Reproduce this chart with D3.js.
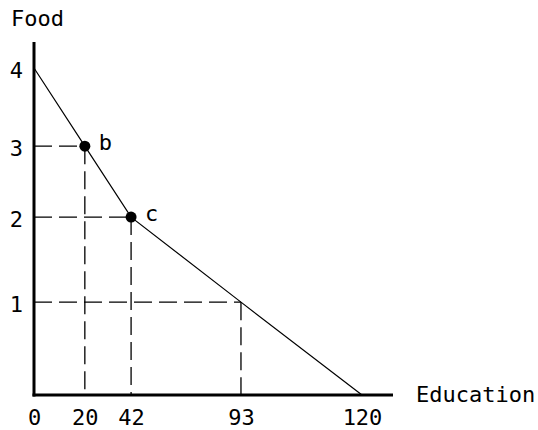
<!DOCTYPE html>
<html>
<head>
<meta charset="utf-8">
<script src="https://cdn.jsdelivr.net/npm/d3@7"></script>
<style>
  body { margin: 0; background: #fff; }
  text { font-family: "DejaVu Sans Mono", monospace; font-size: 22px; fill: #000; }
</style>
</head>
<body>
<div id="chart"></div>
<script>
// data
var xTicks = [0, 20, 42, 93, 120];
var yTicks = [1, 2, 3, 4];
var frontierX = [0, 20, 42, 93, 120];
var frontierY = [4, 3, 2, 1, 0];
var pointLabels = ["b", "c"];
var pointX = [20, 42];
var pointY = [3, 2];
var guideX = [20, 42, 93];
var guideY = [3, 2, 1];

var W = 538, H = 430;
var margin = {top: 68, right: 176, bottom: 35, left: 34},
    width = W - margin.left - margin.right,
    height = H - margin.top - margin.bottom;

var svg = d3.select("#chart")
  .append("svg")
    .attr("width", W)
    .attr("height", H)
  .append("g")
    .attr("transform", "translate(" + margin.left + "," + margin.top + ")");

// the drawing is not to scale, so the axes are piecewise
var x = d3.scaleLinear()
  .domain(xTicks)
  .range([0, 0.155, 0.296, 0.631, 1].map(function(f) { return f * width; }));

var y = d3.scaleLinear()
  .domain([0, 1, 2, 3, 4])
  .range([0, 0.284, 0.544, 0.761, 1].map(function(f) { return height - f * height; }));

// dashed guides
guideX.forEach(function(gx, i) {
  var gy = guideY[i];
  svg.append("line")
    .attr("x1", x(0)).attr("x2", x(gx))
    .attr("y1", y(gy)).attr("y2", y(gy))
    .attr("stroke", "#000").attr("stroke-width", 1.3)
    .attr("stroke-dasharray", "18,7");
  svg.append("line")
    .attr("x1", x(gx)).attr("x2", x(gx))
    .attr("y1", y(gy)).attr("y2", y(0))
    .attr("stroke", "#000").attr("stroke-width", 1.3)
    .attr("stroke-dasharray", "18,7");
});

// frontier line
var line = d3.line()
  .x(function(d) { return x(d[0]); })
  .y(function(d) { return y(d[1]); });

svg.append("path")
  .datum(d3.zip(frontierX, frontierY))
  .attr("fill", "none")
  .attr("stroke", "#000")
  .attr("stroke-width", 1.2)
  .attr("d", line);

// axes (thick lines, labels through d3 axes)
svg.append("line")
  .attr("x1", x(0)).attr("x2", x(0))
  .attr("y1", y(4) - 26).attr("y2", y(0) + 1.5)
  .attr("stroke", "#000").attr("stroke-width", 3);
svg.append("line")
  .attr("x1", x(0) - 1.5).attr("x2", width + 31)
  .attr("y1", y(0)).attr("y2", y(0))
  .attr("stroke", "#000").attr("stroke-width", 3);

var xAxis = svg.append("g")
  .attr("transform", "translate(0," + height + ")")
  .call(d3.axisBottom(x).tickValues(xTicks).tickSize(0).tickFormat(d3.format("d")));
xAxis.select(".domain").remove();
xAxis.selectAll("text")
  .attr("y", 30).attr("dy", 0)
  .style("font-family", "DejaVu Sans Mono").style("font-size", "22px");

var yAxis = svg.append("g")
  .call(d3.axisLeft(y).tickValues(yTicks).tickSize(0).tickFormat(d3.format("d")));
yAxis.select(".domain").remove();
yAxis.selectAll("text")
  .attr("x", -11).attr("dy", 9)
  .style("font-family", "DejaVu Sans Mono").style("font-size", "22px");

// points b and c
svg.selectAll(".pt")
  .data(d3.range(pointX.length))
  .enter().append("circle")
    .attr("class", "pt")
    .attr("cx", function(i) { return x(pointX[i]); })
    .attr("cy", function(i) { return y(pointY[i]); })
    .attr("r", 5.5)
    .attr("fill", "#000");

svg.selectAll(".ptlabel")
  .data(d3.range(pointX.length))
  .enter().append("text")
    .attr("class", "ptlabel")
    .attr("x", function(i) { return x(pointX[i]) + 14; })
    .attr("y", function(i) { return y(pointY[i]) + 4; })
    .text(function(i) { return pointLabels[i]; });

// axis titles
svg.append("text")
  .attr("x", -23).attr("y", -42)
  .text("Food");
svg.append("text")
  .attr("x", width + 54).attr("y", height + 7)
  .text("Education");
</script>
</body>
</html>
